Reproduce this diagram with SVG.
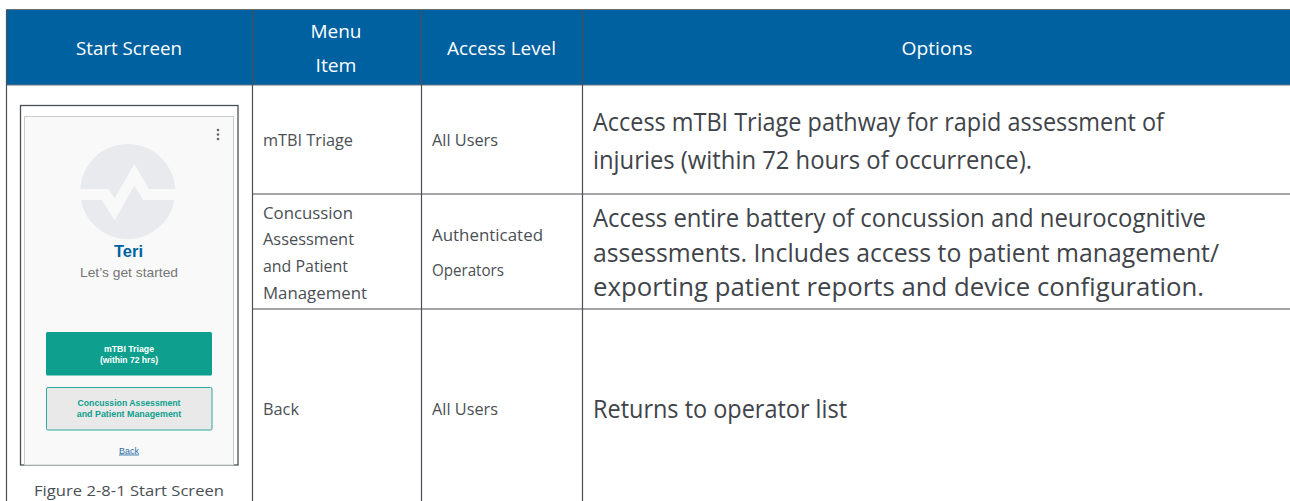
<svg xmlns="http://www.w3.org/2000/svg" width="1290" height="501" viewBox="0 0 1290 501">
<style>
text{font-family:"Open Sans","Noto Sans","Liberation Sans",sans-serif}
.h{fill:#fff;font-size:19px;text-anchor:middle}
.c{fill:#4a4f55;font-size:16.5px}
.o{fill:#3f444a;font-size:25.5px}
.a{font-family:"Liberation Sans",Arial,sans-serif;text-anchor:middle}
.g{stroke:#4a4f55;stroke-width:1.2;fill:none}
</style>
<rect width="1290" height="501" fill="#fff"/>
<g id="header">
<rect x="6" y="10" width="1284" height="75" fill="#0061a1"/>
<path d="M6 9.500H1290M6 85H1290" stroke="#6b7075" stroke-width="1.200" fill="none"/>
</g>
<g id="grid">
<path class="g" d="M6.500 10V501M252.500 10V501M421.500 10V501M582.500 10V501M252.500 194H1290M252.500 309H1290"/>
</g>
<g id="header-text">
<text class="h" x="129" y="55" textLength="106" lengthAdjust="spacingAndGlyphs">Start Screen</text>
<text class="h" x="336" y="38" textLength="51" lengthAdjust="spacingAndGlyphs">Menu</text>
<text class="h" x="336" y="72" textLength="41" lengthAdjust="spacingAndGlyphs">Item</text>
<text class="h" x="501.500" y="55" textLength="109" lengthAdjust="spacingAndGlyphs">Access Level</text>
<text class="h" x="937" y="55" textLength="71" lengthAdjust="spacingAndGlyphs">Options</text>
</g>
<g id="screen">
<rect x="20.500" y="105.500" width="217.500" height="359.500" fill="#fff" stroke="#4a4f55" stroke-width="1.300"/>
<rect x="24.500" y="116.500" width="209" height="348.500" fill="#f9f9f9" stroke="#c9cccc" stroke-width="1"/>
<circle cx="127.700" cy="191.500" r="47.500" fill="#e8eaed"/>
<path d="M78 189H108.700L114.700 198.300L134.300 164L149 189H178V200H143.300L134.300 185.700L114.700 220.300L101.700 200H78Z" fill="#f9f9f9"/>
<circle cx="218" cy="130" r="1.300" fill="#666"/><circle cx="218" cy="134.500" r="1.300" fill="#666"/><circle cx="218" cy="139" r="1.300" fill="#666"/>
<text class="a" x="128.500" y="257" font-size="16.500" font-weight="700" fill="#0061a1" textLength="29" lengthAdjust="spacingAndGlyphs">Teri</text>
<text class="a" x="129" y="277" font-size="13.500" fill="#757575" textLength="98" lengthAdjust="spacingAndGlyphs">Let’s get started</text>
<rect x="46" y="332" width="166" height="43.500" rx="1.500" fill="#0e9f8e"/>
<text class="a" x="129" y="352" font-size="8.500" font-weight="700" fill="#fff" textLength="50" lengthAdjust="spacingAndGlyphs">mTBI Triage</text>
<text class="a" x="129" y="363" font-size="8.500" font-weight="700" fill="#fff" textLength="58" lengthAdjust="spacingAndGlyphs">(within 72 hrs)</text>
<rect x="46.500" y="387.500" width="165.500" height="42.500" rx="1.500" fill="#e9e9e9" stroke="#2fa89a" stroke-width="1"/>
<text class="a" x="129" y="406" font-size="8.500" font-weight="700" fill="#0e9f8e" textLength="103" lengthAdjust="spacingAndGlyphs">Concussion Assessment</text>
<text class="a" x="129" y="417" font-size="8.500" font-weight="700" fill="#0e9f8e" textLength="104.500" lengthAdjust="spacingAndGlyphs">and Patient Management</text>
<text class="a" x="129" y="453.500" font-size="9" fill="#2a6fa8" text-decoration="underline" textLength="20" lengthAdjust="spacingAndGlyphs">Back</text>
<text x="129" y="495.500" font-size="15" fill="#4a4f55" text-anchor="middle" textLength="190" lengthAdjust="spacingAndGlyphs">Figure 2-8-1 Start Screen</text>
</g>
<g id="row1">
<text class="c" x="263" y="146" textLength="90" lengthAdjust="spacingAndGlyphs">mTBI Triage</text>
<text class="c" x="432" y="146" textLength="66" lengthAdjust="spacingAndGlyphs">All Users</text>
<text class="o" x="593" y="131" textLength="571" lengthAdjust="spacingAndGlyphs">Access mTBI Triage pathway for rapid assessment of</text>
<text class="o" x="593" y="169" textLength="439" lengthAdjust="spacingAndGlyphs">injuries (within 72 hours of occurrence).</text>
</g>
<g id="row2">
<text class="c" x="263" y="219" textLength="90" lengthAdjust="spacingAndGlyphs">Concussion</text>
<text class="c" x="263" y="245" textLength="91" lengthAdjust="spacingAndGlyphs">Assessment</text>
<text class="c" x="263" y="272" textLength="85" lengthAdjust="spacingAndGlyphs">and Patient</text>
<text class="c" x="263" y="299" textLength="104" lengthAdjust="spacingAndGlyphs">Management</text>
<text class="c" x="432" y="241" textLength="111" lengthAdjust="spacingAndGlyphs">Authenticated</text>
<text class="c" x="432" y="276" textLength="72" lengthAdjust="spacingAndGlyphs">Operators</text>
<text class="o" x="593" y="227" textLength="613" lengthAdjust="spacingAndGlyphs">Access entire battery of concussion and neurocognitive</text>
<text class="o" x="593" y="262" textLength="626" lengthAdjust="spacingAndGlyphs">assessments. Includes access to patient management/</text>
<text class="o" x="593" y="296" textLength="611" lengthAdjust="spacingAndGlyphs">exporting patient reports and device configuration.</text>
</g>
<g id="row3">
<text class="c" x="263" y="415" textLength="36" lengthAdjust="spacingAndGlyphs">Back</text>
<text class="c" x="432" y="415" textLength="66" lengthAdjust="spacingAndGlyphs">All Users</text>
<text class="o" x="593" y="418" textLength="254" lengthAdjust="spacingAndGlyphs">Returns to operator list</text>
</g>
</svg>
